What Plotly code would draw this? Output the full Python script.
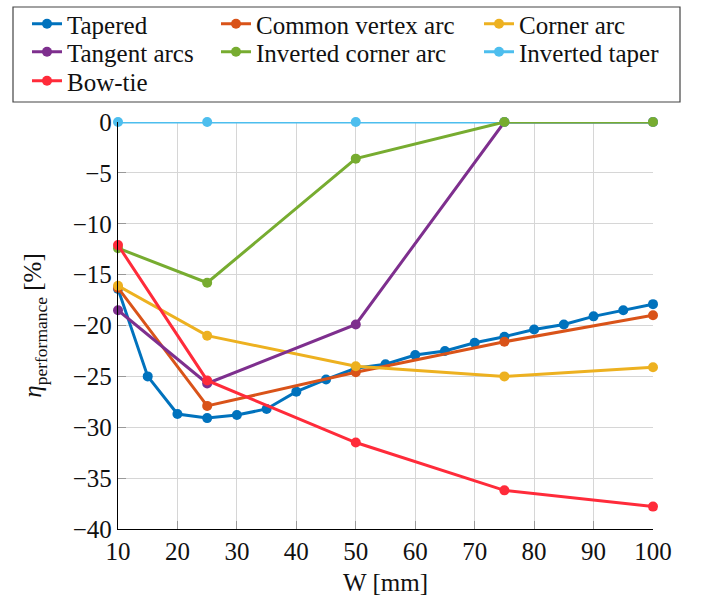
import plotly.graph_objects as go

# Sweep of the width W [mm] and the resulting performance change per geometry
w_tapered = [10, 15, 20, 25, 30, 35, 40, 45, 50, 55, 60, 65, 70, 75, 80, 85, 90, 95, 100]
eta_tapered = [-16.4, -25.0, -28.7, -29.1, -28.8, -28.2, -26.5, -25.3, -24.2, -23.8,
               -22.9, -22.5, -21.7, -21.1, -20.4, -19.9, -19.1, -18.5, -17.9]

w_coarse = [10, 25, 50, 75, 100]
eta_common_vertex = [-16.3, -27.9, -24.6, -21.6, -19.0]
eta_corner_arc = [-16.1, -21.0, -24.0, -25.0, -24.1]
eta_tangent_arcs = [-18.5, -25.7, -19.9, 0.0, 0.0]
eta_inv_taper = [0.0, 0.0, 0.0, 0.0, 0.0]
eta_inv_corner_arc = [-12.4, -15.8, -3.6, 0.0, 0.0]
eta_bowtie = [-12.1, -25.4, -31.5, -36.2, -37.8]

x_ticks = [10, 20, 30, 40, 50, 60, 70, 80, 90, 100]
y_ticks = [0, -5, -10, -15, -20, -25, -30, -35, -40]

FONT = "Liberation Serif"
FS = 25

W, H = 702, 596
ML, MR, MT, MB = 118, 49, 122, 67
PW, PH = W - ML - MR, H - MT - MB


def px_x(p):
    return (p - ML) / PW


def px_y(p):
    return (H - MB - p) / PH


# Legend grid: three columns, three rows (pixel positions of the entries)
col_x = [27, 216, 479]
row_y = [24, 52, 81]

# (name, x, y, colour, column, row)
series = [
    ("Tapered", w_tapered, eta_tapered, "#0072BD", 0, 0),
    ("Common vertex arc", w_coarse, eta_common_vertex, "#D95319", 1, 0),
    ("Corner arc", w_coarse, eta_corner_arc, "#EDB120", 2, 0),
    ("Tangent arcs", w_coarse, eta_tangent_arcs, "#7E2F8E", 0, 1),
    ("Inverted taper", w_coarse, eta_inv_taper, "#4DBEEE", 2, 1),
    ("Inverted corner arc", w_coarse, eta_inv_corner_arc, "#77AC30", 1, 1),
    ("Bow-tie", w_coarse, eta_bowtie, "#FF2B3A", 0, 2),
]

fig = go.Figure()
legends = {}
for i, (name, xs, ys, col, c, r) in enumerate(series):
    leg = "legend" if i == 0 else f"legend{i + 1}"
    fig.add_trace(go.Scatter(
        x=xs, y=ys, name=name, mode="lines+markers",
        line=dict(color=col, width=3),
        marker=dict(color=col, size=10),
        cliponaxis=False, legend=leg,
    ))
    legends[leg] = dict(
        x=px_x(col_x[c]), y=px_y(row_y[r] - 23),
        orientation="v", xanchor="left", yanchor="top",
        bgcolor="rgba(0,0,0,0)", borderwidth=0,
        font=dict(family=FONT, size=FS, color="#111"),
        itemwidth=30,
    )

fig.update_layout(
    width=W, height=H,
    margin=dict(l=ML, r=MR, t=MT, b=MB, autoexpand=False),
    paper_bgcolor="white", plot_bgcolor="white",
    font=dict(family=FONT, size=FS, color="#111"),
    showlegend=True,
    xaxis=dict(
        range=[10, 100], tickvals=x_ticks, automargin=False,
        showgrid=True, gridcolor="#d6d6d6", gridwidth=1,
        showline=True, linecolor="black", linewidth=1.3,
        ticks="inside", ticklen=8, tickcolor="#999", tickwidth=1,
        zeroline=False, tickfont=dict(family=FONT, size=FS),
        title=dict(text="W [mm]", font=dict(family=FONT, size=FS), standoff=10),
    ),
    yaxis=dict(
        range=[-40, 0], tickvals=y_ticks, automargin=False,
        showgrid=True, gridcolor="#d6d6d6", gridwidth=1,
        showline=True, linecolor="black", linewidth=1.3,
        ticks="inside", ticklen=8, tickcolor="#999", tickwidth=1,
        zeroline=False, tickfont=dict(family=FONT, size=FS),
        title=dict(text="<i>η</i><sub>performance</sub> [%]",
                   font=dict(family=FONT, size=FS), standoff=23),
    ),
    shapes=[dict(
        type="rect", xref="paper", yref="paper",
        x0=px_x(13), x1=px_x(680), y0=px_y(102), y1=px_y(7),
        line=dict(color="#444", width=1.2), fillcolor="rgba(0,0,0,0)",
    )],
    **legends,
)

fig.write_html("out.html")
